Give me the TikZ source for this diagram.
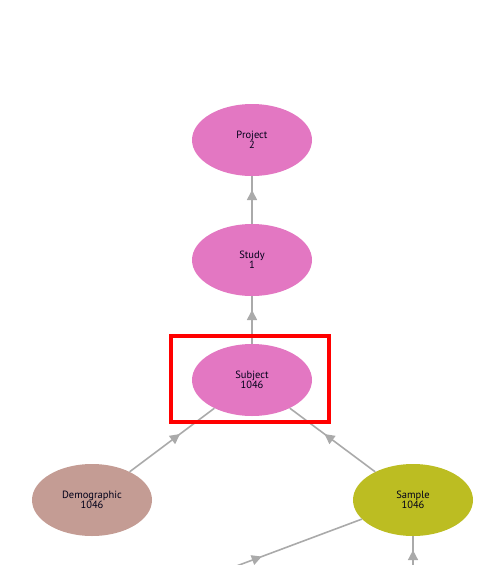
\documentclass[tikz,border=0pt]{standalone}
\usepackage{fontspec}
\setmainfont{PT Sans}
\usetikzlibrary{arrows.meta,decorations.markings,shapes.geometric}
\definecolor{pinkn}{RGB}{227,119,194}
\definecolor{brownn}{RGB}{196,156,148}
\definecolor{oliven}{RGB}{188,189,34}
\definecolor{edgegray}{RGB}{170,170,170}
\tikzset{
  ent/.style={ellipse, minimum width=120pt, minimum height=72pt, inner sep=0pt,
    align=center, font=\fontsize{10.5}{10.5}\selectfont, text=black!90!blue},
  link/.style={draw=edgegray, line width=1.6pt,
    postaction={decorate},
    decoration={markings, mark=at position 0.5 with {\arrow[xshift=10pt,edgegray]{Triangle[length=10pt,width=10pt]}}}},
  focus/.style={draw=red, line width=4pt}
}
\begin{document}
\begin{tikzpicture}[x=1pt,y=-1pt]
\useasboundingbox (0,0) rectangle (491,565);
\clip (0,0) rectangle (491,565);
\node[ent, fill=pinkn] (project) at (252,140) {Project\\2};
\node[ent, fill=pinkn] (study) at (252,260) {Study\\1};
\node[ent, fill=pinkn] (subject) at (252,380) {Subject\\1046};
\node[ent, fill=brownn] (demo) at (92,500) {Demographic\\1046};
\node[ent, fill=oliven] (sample) at (413,500) {Sample\\1046};
\coordinate (offleft) at (142.9,601);
\coordinate (offbelow) at (413,584);
\draw[link] (study) -- (project);
\draw[link] (subject) -- (study);
\draw[link] (demo) -- (subject);
\draw[link] (sample) -- (subject);
\draw[link] (offleft) -- (sample);
\draw[link] (offbelow) -- (sample);
\node[focus, minimum width=158pt, minimum height=86pt, inner sep=0pt] (box) at (250,378.5) {};
\end{tikzpicture}
\end{document}
